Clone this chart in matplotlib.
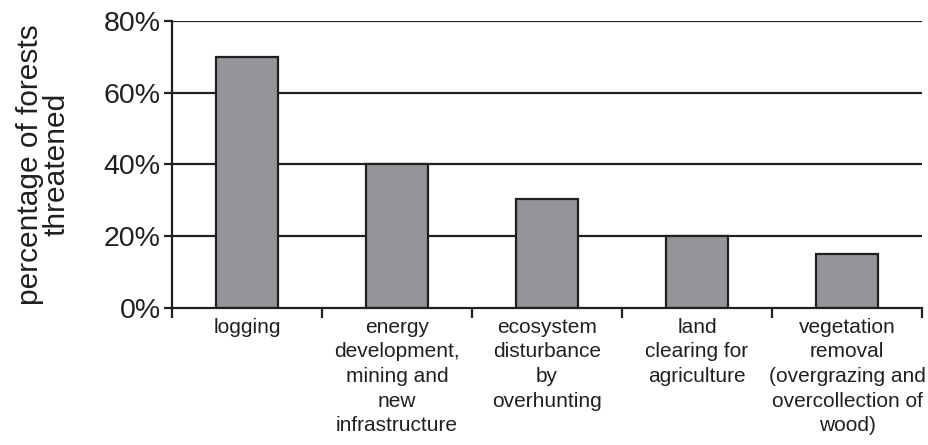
import matplotlib
matplotlib.use("Agg")
import matplotlib.pyplot as plt

plt.rcParams['font.family'] = ['Liberation Sans', 'DejaVu Sans']

categories = ["logging",
              "energy\ndevelopment,\nmining and\nnew\ninfrastructure",
              "ecosystem\ndisturbance\nby\noverhunting",
              "land\nclearing for\nagriculture",
              "vegetation\nremoval\n(overgrazing and\novercollection of\nwood)"]
values = [70, 40, 30.5, 20, 15]
yticks = [0, 20, 40, 60, 80]

ink = "#231f20"

fig = plt.figure(figsize=(9.29, 4.45), dpi=100)
ax = fig.add_axes([0.185, 0.308, 0.8075, 0.645])

# gridlines behind the bars
for t in yticks[1:]:
    ax.axhline(t, color=ink, lw=1.6, zorder=1)

x = list(range(len(categories)))
ax.bar(x, values, width=0.41, color="#939598", edgecolor=ink, linewidth=1.6, zorder=2)

ax.set_xlim(-0.5, len(categories) - 0.5)
ax.set_ylim(0, 80)
ax.set_yticks(yticks)
ax.set_yticklabels([f"{t}%" for t in yticks], fontsize=20.5, color=ink)

# category ticks sit on the borders, labels in the middle
ax.set_xticks([i - 0.5 for i in range(len(categories) + 1)])
ax.set_xticklabels([])
ax.set_xticks(x, minor=True)
ax.set_xticklabels(categories, minor=True, fontsize=15, color=ink, linespacing=1.38, va="top")
ax.tick_params(axis="x", which="minor", length=0, pad=7)
ax.tick_params(axis="x", which="major", length=7, width=1.6, color=ink, direction="out")
ax.tick_params(axis="y", length=6, width=1.6, color=ink, direction="out", pad=2)

for s in ["top", "right"]:
    ax.spines[s].set_visible(False)
for s in ["left", "bottom"]:
    ax.spines[s].set_color(ink)
    ax.spines[s].set_linewidth(1.6)

ax.set_ylabel("percentage of forests\nthreatened", fontsize=21.5, color=ink, linespacing=0.92, labelpad=24)

fig.savefig("out.png", dpi=100)
